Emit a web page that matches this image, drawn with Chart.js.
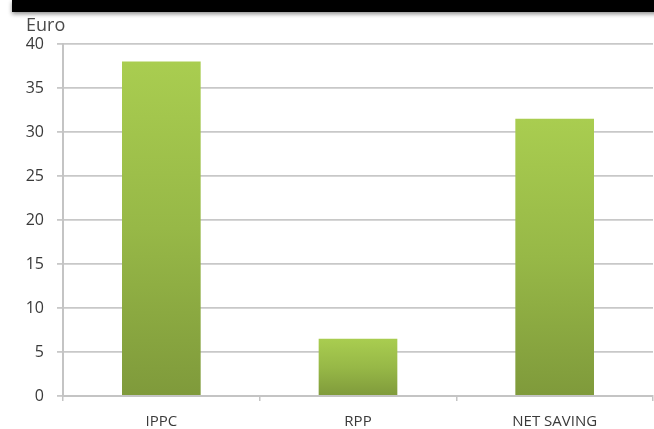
<!DOCTYPE html>
<html>
<head>
<meta charset="utf-8">
<script src="https://cdn.jsdelivr.net/npm/chart.js@4"></script>
<style>
  html, body { margin: 0; padding: 0; background: #fff; }
  #wrap { position: relative; width: 654px; height: 429px; overflow: hidden; }
  #topbar {
    position: absolute; left: 12px; top: 0; width: 660px; height: 12px;
    background: #000; box-shadow: 0 2px 4px rgba(0,0,0,0.45); z-index: 2;
  }
  canvas { position: absolute; left: 0; top: 0; }
</style>
</head>
<body>
<div id="wrap">
  <div id="topbar"></div>
  <canvas id="c" width="654" height="429"></canvas>
</div>
<script>
// Categories and values (Euro)
const categories = ['IPPC', 'RPP', 'NET SAVING'];
const values = [38, 6.5, 31.5];
const yTicks = [0, 5, 10, 15, 20, 25, 30, 35, 40];
const unitLabel = 'Euro';

// Vertical green gradient per bar: light at the top, olive at the base
function barFill(context) {
  const chart = context.chart;
  const ys = chart.scales && chart.scales.y;
  if (!chart.chartArea || !ys || context.raw == null) return '#98b946';
  const top = ys.getPixelForValue(context.raw);
  const base = ys.getPixelForValue(0);
  const g = chart.ctx.createLinearGradient(0, top, 0, base);
  g.addColorStop(0, '#a9cd50');
  g.addColorStop(0.5, '#97b847');
  g.addColorStop(1, '#7f9a3b');
  return g;
}

// Unit caption above the value axis
const unitCaption = {
  id: 'unitCaption',
  afterDraw(chart) {
    const ctx = chart.ctx;
    ctx.save();
    ctx.font = '18px "Open Sans", sans-serif';
    ctx.fillStyle = '#4a4a4a';
    ctx.textBaseline = 'alphabetic';
    ctx.textAlign = 'left';
    ctx.fillText(unitLabel, 26, 31);
    ctx.restore();
  }
};

new Chart(document.getElementById('c'), {
  type: 'bar',
  data: {
    labels: categories,
    datasets: [{
      data: values,
      backgroundColor: barFill,
      borderWidth: 0,
      barPercentage: 0.4,
      categoryPercentage: 1.0
    }]
  },
  options: {
    responsive: false,
    animation: false,
    layout: { padding: { top: 44, right: 1, left: 0, bottom: 0 } },
    plugins: { legend: { display: false }, tooltip: { enabled: false }, title: { display: false } },
    scales: {
      x: {
        offset: true,
        grid: {
          offset: true,
          drawOnChartArea: false,
          drawTicks: true,
          tickLength: 5,
          color: '#c4c4c4',
          lineWidth: 1.5
        },
        border: { color: '#c4c4c4', width: 2 },
        ticks: {
          color: '#3a3a3a',
          font: { family: '"Open Sans", sans-serif', size: 15 },
          padding: 12,
          maxRotation: 0
        },
        afterFit(scale) { scale.height = 33; }
      },
      y: {
        min: 0,
        max: 40,
        afterBuildTicks(scale) { scale.ticks = yTicks.map(v => ({ value: v })); },
        grid: {
          color: '#c8c8c8',
          lineWidth: 1.8,
          drawTicks: true,
          tickLength: 6
        },
        border: { color: '#c4c4c4', width: 2 },
        ticks: {
          color: '#3a3a3a',
          font: { family: '"Open Sans", sans-serif', size: 16 },
          padding: 13
        },
        afterFit(scale) { scale.width = 63; }
      }
    }
  },
  plugins: [unitCaption]
});
</script>
</body>
</html>
